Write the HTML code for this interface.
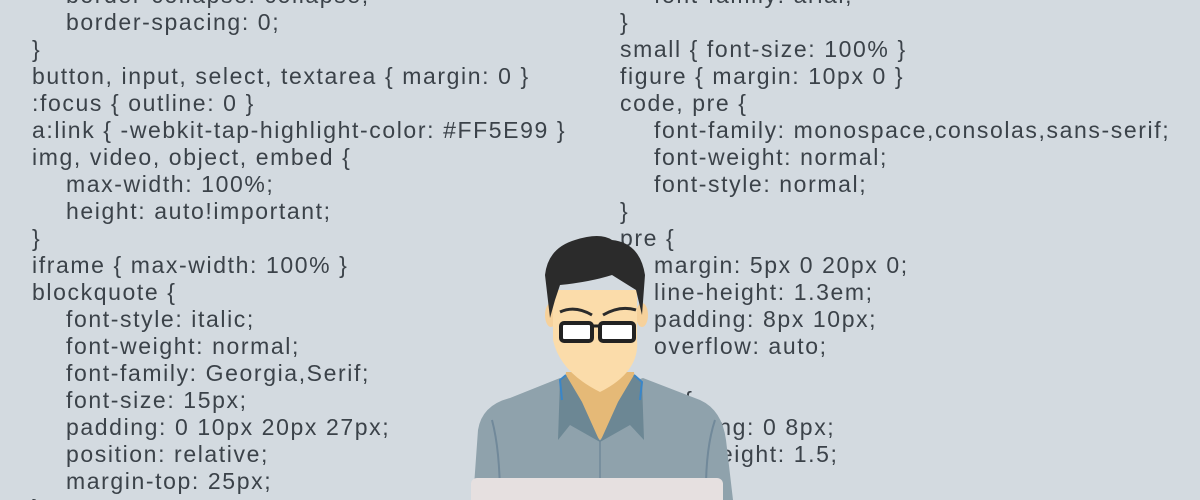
<!DOCTYPE html>
<html><head><meta charset="utf-8"><style>
html,body{margin:0;padding:0;width:1200px;height:500px;overflow:hidden;}
body{background:#d3dae0;position:relative;font-family:"Liberation Sans","Noto Sans CJK JP",sans-serif;}
.code{position:absolute;top:0;color:#3b4249;font-size:23px;line-height:27px;letter-spacing:1.6px;margin:0;}
.l{height:27px;white-space:pre;}
.i{padding-left:34px;}
svg{position:absolute;left:0;top:0;}
</style></head><body>
<div class="code" style="left:32px;top:-18px;"><div class="l i">border-collapse: collapse;</div><div class="l i">border-spacing: 0;</div><div class="l">}</div><div class="l">button, input, select, textarea { margin: 0 }</div><div class="l">:focus { outline: 0 }</div><div class="l">a:link { -webkit-tap-highlight-color: #FF5E99 }</div><div class="l">img, video, object, embed {</div><div class="l i">max-width: 100%;</div><div class="l i">height: auto!important;</div><div class="l">}</div><div class="l">iframe { max-width: 100% }</div><div class="l">blockquote {</div><div class="l i">font-style: italic;</div><div class="l i">font-weight: normal;</div><div class="l i">font-family: Georgia,Serif;</div><div class="l i">font-size: 15px;</div><div class="l i">padding: 0 10px 20px 27px;</div><div class="l i">position: relative;</div><div class="l i">margin-top: 25px;</div><div class="l">}</div></div>
<div class="code" style="left:620px;top:-18px;"><div class="l i">font-family: arial;</div><div class="l">}</div><div class="l">small { font-size: 100% }</div><div class="l">figure { margin: 10px 0 }</div><div class="l">code, pre {</div><div class="l i">font-family: monospace,consolas,sans-serif;</div><div class="l i">font-weight: normal;</div><div class="l i">font-style: normal;</div><div class="l">}</div><div class="l">pre {</div><div class="l i">margin: 5px 0 20px 0;</div><div class="l i">line-height: 1.3em;</div><div class="l i">padding: 8px 10px;</div><div class="l i">overflow: auto;</div><div class="l">}</div><div class="l">code {</div><div class="l i">padding: 0 8px;</div><div class="l i">line-height: 1.5;</div><div class="l">}</div></div>
<svg width="1200" height="500">
  <g>
    <path d="M473 500 L478 430 Q482 405 510 398 L560 378 L600 392 L643 378 L700 400 Q722 410 726 440 L733 500 Z" fill="#8fa2ac"/>
    <path d="M492 420 Q500 450 500 500" stroke="#71899a" stroke-width="2" fill="none"/>
    <path d="M715 420 Q705 450 706 500" stroke="#71899a" stroke-width="2" fill="none"/>
    <path d="M600 440 L600 500" stroke="#71899a" stroke-width="1.5"/>
  </g>
  <path d="M566 372 L634 372 L637 395 L600 440 L563 395 Z" fill="#e5b977"/>
  <path d="M566 375 L560 380 L558 440 L570 425 L600 442 L582 402 Z" fill="#6c8794"/>
  <path d="M634 375 L642 382 L644 440 L630 425 L600 442 L618 402 Z" fill="#6c8794"/>
  <path d="M566 375 L560 380 L562 400" stroke="#3a86c8" stroke-width="2" fill="none"/>
  <path d="M634 375 L642 382 L640 400" stroke="#3a86c8" stroke-width="2" fill="none"/>
  <g>
    <ellipse cx="551" cy="315" rx="6" ry="12" fill="#f6d19b"/>
    <ellipse cx="642" cy="315" rx="6" ry="12" fill="#f6d19b"/>
    <path d="M553 290 L553 340 Q560 372 600 392 Q640 372 637 340 L637 290 Z" fill="#fbdcaa"/>
  </g>
  <path d="M545 275 Q548 248 575 240 Q600 232 612 240 Q640 243 645 275 L642 315 L636 290 Q628 285 612 275 Q590 282 560 285 L555 300 L550 318 Z" fill="#2b2b2b"/>
  <g>
    <path d="M560 312 Q575 305 592 315" stroke="#2b2b2b" stroke-width="3" fill="none"/>
    <path d="M603 315 Q620 305 636 310" stroke="#2b2b2b" stroke-width="3" fill="none"/>
    <rect x="561" y="323" width="31" height="18" rx="3" fill="#ffffff" stroke="#222" stroke-width="4"/>
    <rect x="600" y="323" width="34" height="18" rx="3" fill="#ffffff" stroke="#222" stroke-width="4"/>
    <line x1="592" y1="326" x2="600" y2="326" stroke="#222" stroke-width="3"/>
  </g>
  <rect x="471" y="478" width="252" height="30" rx="6" fill="#e6e0e0"/>
</svg>
</body></html>
